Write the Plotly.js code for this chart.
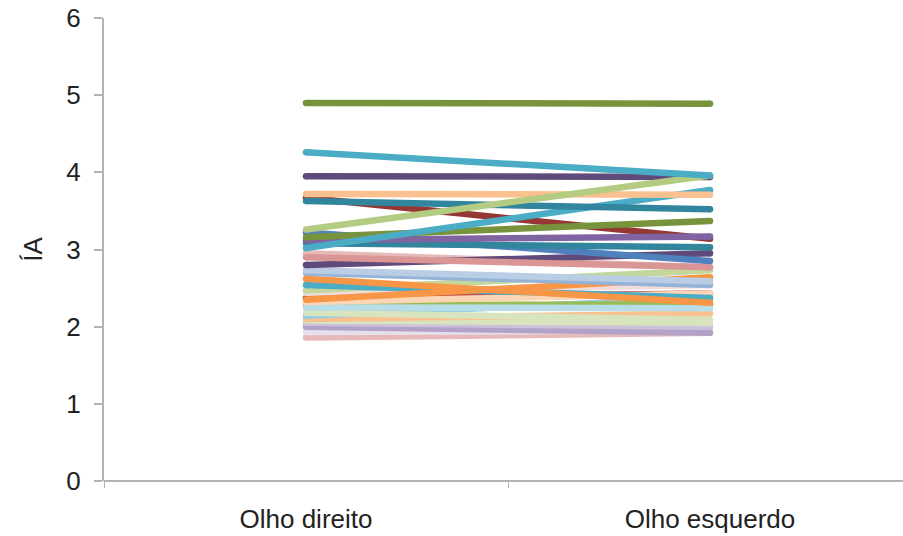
<!DOCTYPE html>
<html>
<head>
<meta charset="utf-8">
<script src="https://cdn.plot.ly/plotly-3.0.1.min.js"></script>
<style>html,body{margin:0;padding:0;background:#fff;overflow:hidden;}#chart{width:903px;height:536px;}</style>
</head>
<body>
<div id="chart"></div>
<script>
const categories = ["Olho direito", "Olho esquerdo"];
const yTickLabels = ["0", "1", "2", "3", "4", "5", "6"];
const yTitle = "ÍA";

// One entry per eye pair: value for right eye (Olho direito) and left eye (Olho esquerdo); first drawn at the bottom
const olhoDireito = [3.67, 2.37, 2.95, 1.86, 1.93, 2.00, 2.05, 2.08, 2.10, 2.14, 2.18, 2.28, 2.25, 2.32, 2.44, 2.47, 2.54, 2.35, 2.62, 2.70, 2.73, 2.80, 2.90, 3.22, 3.08, 3.12, 3.16, 3.02, 3.63, 3.72, 3.95, 3.26, 4.26, 4.90];
const olhoEsquerdo = [3.14, 2.43, 2.77, 1.92, 1.95, 1.92, 2.00, 2.05, 2.17, 2.37, 2.09, 2.29, 2.24, 2.43, 2.54, 2.73, 2.37, 2.64, 2.31, 2.54, 2.59, 2.95, 2.77, 2.85, 3.03, 3.17, 3.37, 3.77, 3.52, 3.71, 3.94, 3.96, 3.96, 4.89];
const seriesColors = ["#953735", "#C0504D", "#E6B9B8", "#E6B9B8", "#E6E0EC", "#B3A2C7", "#CCC1DA", "#D7E4BD", "#FAC090", "#93CDDD", "#D7E4BD", "#9BBB59", "#B7DEE8", "#FCD5B5", "#F2DCDB", "#C3D69B", "#4BACC6", "#F79646", "#F79646", "#95B3D7", "#B9CDE5", "#604A7B", "#D99694", "#4F81BD", "#31859C", "#8064A2", "#77933C", "#4BACC6", "#31859C", "#FAC08F", "#604A7B", "#B3CC82", "#4BACC6", "#77933C"];

const xPos = [0, 1];
const traces = [];
for (let i = 0; i < olhoDireito.length; i++) {
  traces.push({
    x: xPos,
    y: [olhoDireito[i], olhoEsquerdo[i]],
    type: "scatter",
    mode: "lines+markers",
    line: {color: seriesColors[i], width: 6.5},
    marker: {color: seriesColors[i], size: 6.5, line: {width: 0}},
    showlegend: false,
    hoverinfo: "skip",
    cliponaxis: false
  });
}
traces.push({x: [0], y: [0], xaxis: "x2", yaxis: "y", mode: "markers", marker: {opacity: 0}, showlegend: false, hoverinfo: "skip"});

const axisColor = "#b3b3b3";
const font = {family: "Liberation Sans, Arial, sans-serif", size: 26, color: "#222"};
const xr = [-0.5, 1.4777];

const layout = {
  width: 903, height: 536,
  margin: {l: 104, r: 0, t: 18, b: 55, pad: 0, autoexpand: false},
  paper_bgcolor: "#fff", plot_bgcolor: "#fff",
  showlegend: false,
  font: font,
  xaxis: {
    range: xr, tickvals: xPos, ticktext: categories, ticks: "",
    showgrid: false, zeroline: false, showline: false,
    tickfont: font, ticklabelstandoff: 20, fixedrange: true, automargin: false
  },
  xaxis2: {
    range: xr, overlaying: "x", tickvals: [-0.5, 0.5], ticks: "outside", ticklen: 6, tickwidth: 1,
    tickcolor: axisColor, showticklabels: false, showgrid: false, zeroline: false, showline: false,
    anchor: "y", side: "bottom", automargin: false
  },
  yaxis: {
    range: [0, 6], tickvals: [0, 1, 2, 3, 4, 5, 6], ticktext: yTickLabels,
    ticks: "outside", ticklen: 8, tickwidth: 2, tickcolor: axisColor,
    showgrid: false, zeroline: false, showline: true, linecolor: axisColor, linewidth: 2,
    tickfont: font, ticklabelstandoff: 8, automargin: false,
    title: {text: yTitle, font: font, standoff: 16}
  },
  shapes: [{type: "line", xref: "paper", yref: "paper", x0: 0, x1: 1.1, y0: 0, y1: 0, line: {color: axisColor, width: 2}, layer: "below"}]
};

Plotly.newPlot("chart", traces, layout, {displayModeBar: false, staticPlot: true});
</script>
</body>
</html>
